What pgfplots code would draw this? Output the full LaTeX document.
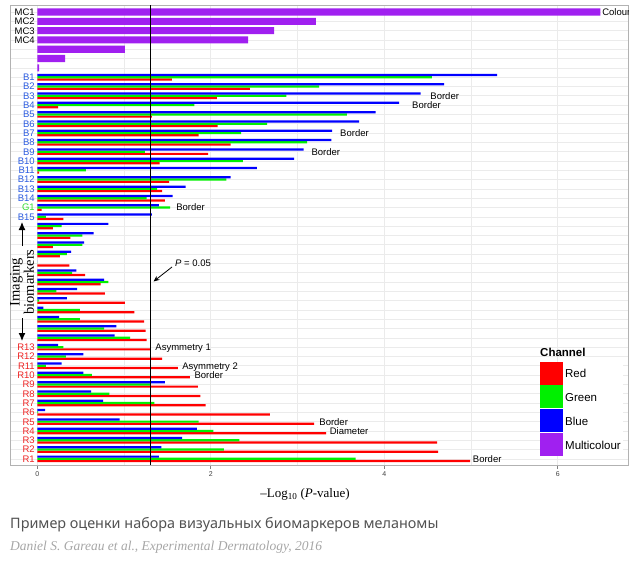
\documentclass[border=0pt]{standalone}
\usepackage{pgfplots}
\pgfplotsset{compat=1.18}
\usetikzlibrary{arrows.meta}
\usepackage{fontspec}
\setmainfont{Liberation Sans}
\newfontfamily\seriffont{Liberation Serif}
\newfontfamily\capfont{Noto Sans}
\definecolor{rred}{HTML}{FF0000}
\definecolor{rgreen}{HTML}{00F000}
\definecolor{rblue}{HTML}{0000FF}
\definecolor{rpurple}{HTML}{A020F0}
\definecolor{lblue}{HTML}{2B5BE0}
\definecolor{lgreen}{HTML}{33DD33}
\definecolor{lred}{HTML}{EE2222}
\definecolor{gridc}{HTML}{EBEBEB}

\pgfplotstableread{
y x
0 6.49
1 3.21
2 2.73
3 2.43
4 1.01
5 0.32
6 0.02
}\purpledata

\pgfplotstableread{
y x
7 5.30
8 4.69
9 4.42
10 4.17
11 3.90
12 3.71
13 3.40
14 3.39
15 3.07
16 2.96
17 2.53
18 2.23
19 1.71
20 1.56
21 1.40
22 1.32
23 0.82
24 0.65
25 0.54
26 0.39
27 0
28 0.45
29 0.77
30 0.46
31 0.34
32 0.07
33 0.25
34 0.91
35 0.89
36 0.24
37 0.53
38 0.28
39 0.53
40 1.47
41 0.62
42 0.76
43 0.09
44 0.95
45 1.84
46 1.67
47 1.43
48 1.40
}\bluedata

\pgfplotstableread{
y x
7 4.55
8 3.25
9 2.87
10 1.81
11 3.57
12 2.65
13 2.35
14 3.11
15 1.24
16 2.37
17 0.56
18 2.18
19 1.38
20 1.26
21 1.53
22 0.10
23 0.28
24 0.52
25 0.52
26 0.34
27 0
28 0.40
29 0.82
30 0.22
31 0.02
32 0.49
33 0.49
34 0.77
35 1.07
36 0.30
37 0.33
38 0.10
39 0.63
40 1.30
41 0.83
42 1.35
43 0.01
44 1.86
45 2.03
46 2.33
47 2.15
48 3.67
}\greendata

\pgfplotstableread{
y x
7 1.55
8 2.45
9 2.07
10 0.24
11 1.32
12 2.08
13 1.86
14 2.23
15 1.97
16 1.41
17 0.02
18 1.52
19 1.44
20 1.47
21 0.05
22 0.30
23 0.18
24 0.38
25 0.18
26 0.26
27 0.37
28 0.55
29 0.73
30 0.78
31 1.01
32 1.12
33 1.23
34 1.25
35 1.26
36 1.31
37 1.44
38 1.62
39 1.76
40 1.85
41 1.88
42 1.94
43 2.68
44 3.19
45 3.33
46 4.61
47 4.62
48 4.99
}\reddata

\begin{document}
\begin{tikzpicture}[x=1pt,y=1pt,
  lab/.style={anchor=east, inner sep=0pt, font=\fontsize{9.5}{11}\selectfont, text height=6.8pt, text depth=0pt},
  ann/.style={anchor=west, inner sep=0pt, font=\fontsize{9.5}{11}\selectfont, text height=6.8pt, text depth=0pt}]
\path[use as bounding box] (0,0) rectangle (634,-567);
\begin{axis}[
  at={(10pt,-5pt)}, anchor=north west,
  width=618pt, height=460pt, scale only axis,
  xmin=-0.315, xmax=6.81,
  ymin=-0.75, ymax=48.66, y dir=reverse,
  xbar, bar width=0.24,
  xtick={0,2,4,6}, minor xtick={1,3,5},
  ytick={0,...,48}, yticklabels={},
  xmajorgrids, xminorgrids, ymajorgrids,
  major grid style={gridc, line width=0.6pt},
  minor grid style={gridc, line width=0.6pt},
  minor tick length=0pt,
  ytick style={draw=none},
  xtick pos=left, tick align=outside, major tick length=3.5pt,
  xtick style={black!50, line width=0.6pt},
  xticklabel style={font=\fontsize{7}{8}\selectfont, text=black!75},
  /pgf/number format/assume math mode=true,
  axis line style={black!30, line width=0.6pt},
  legend image code/.code={\fill[#1] (0pt,-10.2pt) rectangle (23pt,12.8pt);},
  legend style={at={(axis cs:5.795,37.55)}, anchor=north west, draw=none, fill=white,
    inner sep=0pt, row sep=0.7pt, font=\fontsize{11.5}{13}\selectfont,
    /tikz/every even column/.append style={column sep=5pt}},
  legend cell align=left,
]
\addplot[fill=rred, draw=none, bar shift=0.24] table[x=x,y=y] {\reddata};
\addlegendentry{Red}
\addplot[fill=rgreen, draw=none, bar shift=0] table[x=x,y=y] {\greendata};
\addlegendentry{Green}
\addplot[fill=rblue, draw=none, bar shift=-0.24] table[x=x,y=y] {\bluedata};
\addlegendentry{Blue}
\addplot[fill=rpurple, draw=none, bar shift=0, bar width=0.76] table[x=x,y=y] {\purpledata};
\addlegendentry{Multicolour}
\addplot[sharp plot, black, line width=1pt, forget plot] coordinates {(1.301,-0.75) (1.301,48.66)};

% category labels
\node[lab] at (axis cs:-0.027,0) {MC1};
\node[lab] at (axis cs:-0.027,1) {MC2};
\node[lab] at (axis cs:-0.027,2) {MC3};
\node[lab] at (axis cs:-0.027,3) {MC4};
\node[lab,text=lblue] at (axis cs:-0.027,7) {B1};
\node[lab,text=lblue] at (axis cs:-0.027,8) {B2};
\node[lab,text=lblue] at (axis cs:-0.027,9) {B3};
\node[lab,text=lblue] at (axis cs:-0.027,10) {B4};
\node[lab,text=lblue] at (axis cs:-0.027,11) {B5};
\node[lab,text=lblue] at (axis cs:-0.027,12) {B6};
\node[lab,text=lblue] at (axis cs:-0.027,13) {B7};
\node[lab,text=lblue] at (axis cs:-0.027,14) {B8};
\node[lab,text=lblue] at (axis cs:-0.027,15) {B9};
\node[lab,text=lblue] at (axis cs:-0.027,16) {B10};
\node[lab,text=lblue] at (axis cs:-0.027,17) {B11};
\node[lab,text=lblue] at (axis cs:-0.027,18) {B12};
\node[lab,text=lblue] at (axis cs:-0.027,19) {B13};
\node[lab,text=lblue] at (axis cs:-0.027,20) {B14};
\node[lab,text=lgreen] at (axis cs:-0.027,21) {G1};
\node[lab,text=lblue] at (axis cs:-0.027,22) {B15};
\node[lab,text=lred] at (axis cs:-0.027,36) {R13};
\node[lab,text=lred] at (axis cs:-0.027,37) {R12};
\node[lab,text=lred] at (axis cs:-0.027,38) {R11};
\node[lab,text=lred] at (axis cs:-0.027,39) {R10};
\node[lab,text=lred] at (axis cs:-0.027,40) {R9};
\node[lab,text=lred] at (axis cs:-0.027,41) {R8};
\node[lab,text=lred] at (axis cs:-0.027,42) {R7};
\node[lab,text=lred] at (axis cs:-0.027,43) {R6};
\node[lab,text=lred] at (axis cs:-0.027,44) {R5};
\node[lab,text=lred] at (axis cs:-0.027,45) {R4};
\node[lab,text=lred] at (axis cs:-0.027,46) {R3};
\node[lab,text=lred] at (axis cs:-0.027,47) {R2};
\node[lab,text=lred] at (axis cs:-0.027,48) {R1};

% annotations
\node[ann, fill=white, inner xsep=1pt] at (axis cs:6.50,0) {Colour};
\node[ann] at (axis cs:4.53,9) {Border};
\node[ann] at (axis cs:4.32,10) {Border};
\node[ann] at (axis cs:3.49,13) {Border};
\node[ann] at (axis cs:3.16,15) {Border};
\node[ann] at (axis cs:1.60,21) {Border};
\node[ann] at (axis cs:1.36,36) {Asymmetry 1};
\node[ann] at (axis cs:1.67,38) {Asymmetry 2};
\node[ann] at (axis cs:1.81,39) {Border};
\node[ann] at (axis cs:3.25,44) {Border};
\node[ann] at (axis cs:3.37,45) {Diameter};
\node[ann] at (axis cs:5.02,48) {Border};
\end{axis}

% legend title
\node[anchor=west, inner sep=0pt, font=\fontsize{11.5}{13}\selectfont\bfseries] at (540,-352) {Channel};

% P = 0.05 annotation
\node[anchor=west, inner sep=0pt, font=\fontsize{9.5}{11}\selectfont] at (175,-263) {\textit{P} = 0.05};
\draw[line width=0.8pt, -{Stealth[length=6pt,width=5pt]}] (172,-267) -- (153.5,-281.5);

% Imaging biomarkers
\node[rotate=90, align=center, inner sep=0pt, font=\seriffont\fontsize{14.5}{12.5}\selectfont] at (22,-282) {Imaging\\biomarkers};
\draw[line width=1pt, -{Latex[length=8pt,width=7pt]}] (22,-246) -- (22,-222);
\draw[line width=1pt, -{Latex[length=8pt,width=7pt]}] (22,-318) -- (22,-341);

% x label
\node[inner sep=0pt, font=\seriffont\fontsize{13}{15}\selectfont] at (305,-494) {–Log\textsubscript{10} (\textit{P}-value)};

% caption
\node[anchor=west, inner sep=0pt, text=black!68, font=\capfont\fontsize{14.4}{16}\selectfont] at (10,-525) {Пример оценки набора визуальных биомаркеров меланомы};
\node[anchor=west, inner sep=0pt, text=black!35, font=\seriffont\itshape\fontsize{13.5}{15}\selectfont] at (10,-547) {Daniel S. Gareau et al., Experimental Dermatology, 2016};
\end{tikzpicture}
\end{document}
